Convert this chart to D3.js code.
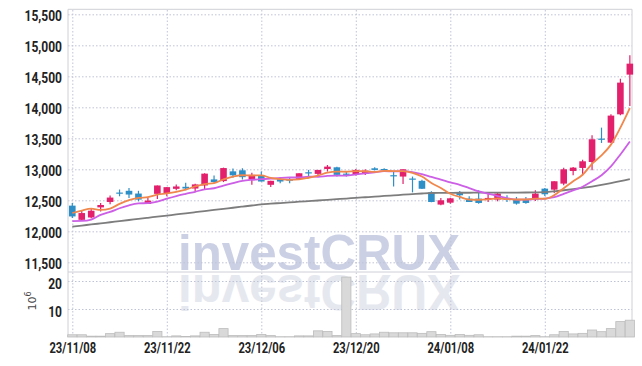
<!DOCTYPE html>
<html><head><meta charset="utf-8">
<script src="https://cdn.jsdelivr.net/npm/d3@7"></script>
<style>
body{margin:0;background:#fff}
svg{display:block}
.lbl text{font-family:"Liberation Sans Narrow","Roboto",sans-serif;font-weight:bold;font-size:14px;fill:#222}
.grid line{stroke:#bfc3d6;stroke-width:1;stroke-dasharray:1.5,2}
</style>
</head><body>
<svg id="c" width="642" height="366"></svg>
<script>
// ---- data ----
const dates = ["23/11/08","23/11/09","23/11/10","23/11/13","23/11/14","23/11/15","23/11/16","23/11/17","23/11/20","23/11/21",
"23/11/22","23/11/23","23/11/24","23/11/27","23/11/28","23/11/29","23/11/30","23/12/01","23/12/04","23/12/05",
"23/12/06","23/12/07","23/12/08","23/12/11","23/12/12","23/12/13","23/12/14","23/12/15","23/12/18","23/12/19",
"23/12/20","23/12/21","23/12/22","23/12/26","23/12/27","23/12/28","24/01/02","24/01/03","24/01/04","24/01/05",
"24/01/08","24/01/09","24/01/10","24/01/11","24/01/12","24/01/15","24/01/16","24/01/17","24/01/18","24/01/19",
"24/01/22","24/01/23","24/01/24","24/01/25","24/01/26","24/01/29","24/01/30","24/01/31","24/02/01","24/02/02"];
const xTickLabels = ["23/11/08","23/11/22","23/12/06","23/12/20","24/01/08","24/01/22"];
const opens  = [12414,12185,12223,12386,12473,12625,12653,12609,12441,12604,12614,12685,12718,12690,12739,12837,12810,12967,12984,12835,
12894,12750,12840,12835,12846,12952,12926,13005,13032,12930,12920,12926,13016,13005,12905,12883,12851,12814,12628,12431,
12462,12618,12527,12527,12511,12511,12527,12511,12516,12511,12688,12672,12769,12973,13022,13118,13495,13430,13887,14527];
const highs  = [12457,12332,12359,12457,12576,12674,12700,12653,12538,12739,12712,12756,12783,12767,12935,12900,13027,13013,13016,12946,
12963,12814,12856,12872,12936,12990,12990,13069,13043,12957,13005,13000,13032,13016,12963,13000,12883,12830,12644,12537,
12543,12651,12565,12661,12634,12634,12581,12554,12554,12661,12699,12807,13027,13038,13156,13548,13672,13887,14462,14839];
const lows   = [12213,12174,12212,12321,12435,12565,12538,12484,12441,12522,12566,12663,12663,12647,12670,12783,12794,12864,12837,12750,
12803,12713,12777,12777,12840,12856,12894,12963,12883,12883,12900,12910,12979,12979,12723,12761,12628,12681,12468,12420,
12446,12511,12473,12446,12473,12484,12473,12430,12446,12489,12570,12618,12742,12903,12903,12984,13425,13425,13871,14020];
const closes = [12240,12294,12332,12424,12544,12615,12593,12511,12495,12739,12712,12723,12690,12756,12930,12795,13020,12903,12873,12910,
12803,12814,12803,12825,12936,12941,12990,13043,12910,12920,12990,12979,12990,12995,12894,13000,12840,12686,12473,12500,
12532,12581,12473,12457,12538,12608,12516,12446,12457,12608,12597,12807,13000,13027,13129,13484,13484,13866,14398,14704];
const volumes = [0.8,0.8,0.3,0.3,1.2,1.7,0.5,0.5,0.5,2.0,0.1,0.4,0.2,0.4,1.7,0.9,3.0,0.5,0.5,0.5,
0.9,0.5,0.1,0.1,0.4,0.4,2.2,2.0,0.5,21.4,1.2,0.8,1.1,1.7,1.5,1.5,1.5,1.3,1.9,0.9,
0.6,0.9,0.6,0.8,0.1,0.1,0.1,0.3,0.3,0.5,0.1,0.8,2.0,1.1,1.3,2.5,1.9,3.0,5.5,6.0];
const ma5Head  = [12295,12335,12365,12345];
const ma10Head = [12165,12168,12190,12265,12312,12372,12420,12450,12455];
const ma60 = [12075,12093,12110,12128,12146,12164,12182,12200,12218,12236,12254,12272,12290,12308,12326,12344,12362,12380,12398,12416,
12435,12446,12456,12466,12477,12487,12497,12508,12518,12528,12539,12549,12559,12570,12580,12590,12600,12610,12618,12620,
12621,12622,12622,12623,12623,12624,12624,12625,12626,12628,12632,12645,12662,12680,12700,12722,12748,12776,12808,12843];
const priceTicks = [11500,12000,12500,13000,13500,14000,14500,15000,15500];
const volumeTicks = [10,20];

// ---- layout ----
const L = 68, R = 632, T = 9.3, MID = 272, B = 337;
const svg = d3.select("#c");
svg.append("rect").attr("width",642).attr("height",366).attr("fill","#fff");

const x = d3.scalePoint().domain(dates).range([72.3, 72.3 + 9.45*59]);
const y = d3.scaleLinear().domain([11500,15500]).range([262.3,14.3]);
const yv = d3.scaleLinear().domain([0,20]).range([B,281]);

function mavg(arr, n, head){
  return arr.map((_,i)=> i < n-1 ? head[i] : d3.mean(arr.slice(i-n+1,i+1)));
}
const ma5 = mavg(closes,5,ma5Head);
const ma10 = mavg(closes,10,ma10Head);

// watermark + reflection
const wm = svg.append("g");
wm.append("text").attr("x",178).attr("y",269.5).attr("textLength",282).attr("lengthAdjust","spacingAndGlyphs")
  .attr("font-family","Liberation Sans, Arial, sans-serif").attr("font-weight","bold").attr("font-size",50)
  .attr("fill","#cbd0e4").text("investCRUX");
svg.append("clipPath").attr("id","refclip").append("rect").attr("x",L).attr("y",MID).attr("width",R-L).attr("height",B-MID);
wm.append("g").attr("clip-path","url(#refclip)")
  .append("text").attr("x",178).attr("y",269.5).attr("textLength",282).attr("lengthAdjust","spacingAndGlyphs")
  .attr("transform",`translate(0,${2*272.2}) scale(1,-1)`)
  .attr("font-family","Liberation Sans, Arial, sans-serif").attr("font-weight","bold").attr("font-size",50)
  .attr("fill","#e6e8f0").text("investCRUX");

// grids
svg.append("g").attr("class","grid").attr("transform",`translate(${L},0)`)
  .call(d3.axisLeft(y).tickValues(priceTicks).tickSize(-(R-L)).tickFormat(""))
  .call(g=>g.select(".domain").remove());
svg.append("g").attr("class","grid").attr("transform",`translate(${L},0)`)
  .call(d3.axisLeft(yv).tickValues(volumeTicks).tickSize(-(R-L)).tickFormat(""))
  .call(g=>g.select(".domain").remove());
svg.append("g").attr("class","grid").attr("transform",`translate(0,${B})`)
  .call(d3.axisBottom(x).tickValues(xTickLabels).tickSize(-(B-T)).tickFormat(""))
  .call(g=>g.select(".domain").remove());

// frame
const fr = svg.append("g").attr("stroke","#cfd0d8").attr("stroke-width",1).attr("fill","none");
fr.append("path").attr("d",`M${L},${B}V${T}H${R}V${B}`);
fr.append("line").attr("x1",L).attr("x2",R).attr("y1",MID).attr("y2",MID);

// volume bars
svg.append("g").selectAll("rect").data(volumes).join("rect")
  .attr("x",(d,i)=>x(dates[i])-4.6).attr("width",9.2)
  .attr("y",d=>yv(d)).attr("height",d=>B-yv(d))
  .attr("fill","#d9d9d9").attr("stroke","#bcbcbc").attr("stroke-width",0.8);

// candles
const up="#e2206b", dn="#2d8fc6";
const cg = svg.append("g");
dates.forEach((d,i)=>{
  const o=opens[i], c=closes[i], col = c>=o?up:dn, cx=x(d);
  cg.append("line").attr("x1",cx).attr("x2",cx).attr("y1",y(highs[i])).attr("y2",y(lows[i]))
    .attr("stroke",col).attr("stroke-width",1.2);
  const top=y(Math.max(o,c)), h=Math.max(1.2,Math.abs(y(o)-y(c)));
  cg.append("rect").attr("x",cx-3.3).attr("width",6.6).attr("y",top).attr("height",h).attr("fill",col);
});

// moving averages
const line = arr => d3.line().x((_,i)=>x(dates[i])).y(v=>y(v)).curve(d3.curveMonotoneX)(arr);
svg.append("path").attr("d",line(ma60)).attr("fill","none").attr("stroke","#7d7d7d").attr("stroke-width",1.8);
svg.append("path").attr("d",line(ma10)).attr("fill","none").attr("stroke","#cc5fe6").attr("stroke-width",1.8);
svg.append("path").attr("d",line(ma5)).attr("fill","none").attr("stroke","#f0874c").attr("stroke-width",1.8);

// axis labels (horizontally condensed)
const sy = 0.86, sx = 0.8;
svg.append("g").attr("class","lbl").attr("transform",`translate(${L},1.5)`)
  .call(d3.axisLeft(y).tickValues(priceTicks).tickFormat(d3.format(",")).tickSize(0).tickPadding(6))
  .call(g=>g.select(".domain").remove())
  .call(g=>g.selectAll("text").attr("x",-6/sy).attr("transform",`scale(${sy},1)`));
svg.append("g").attr("class","lbl").attr("transform",`translate(${L},3)`)
  .call(d3.axisLeft(yv).tickValues(volumeTicks).tickFormat(d3.format("d")).tickSize(0).tickPadding(6))
  .call(g=>g.select(".domain").remove())
  .call(g=>g.selectAll("text").attr("x",-6/sy).attr("transform",`scale(${sy},1)`));
svg.append("g").attr("class","lbl").attr("transform",`translate(0,${B})`)
  .call(d3.axisBottom(x).tickValues(xTickLabels).tickSize(0).tickPadding(6))
  .call(g=>g.select(".domain").remove())
  .call(g=>g.selectAll("text").attr("transform",`scale(${sx},1)`));

// 10^6 unit label
const ul = svg.append("text").attr("transform","translate(36,301) rotate(-90)").attr("text-anchor","middle")
  .attr("font-family","DejaVu Sans, sans-serif").attr("font-size",11).attr("fill","#444");
ul.append("tspan").text("10");
ul.append("tspan").attr("dy",-5).attr("font-size",8).text("6");
</script>
</body></html>
